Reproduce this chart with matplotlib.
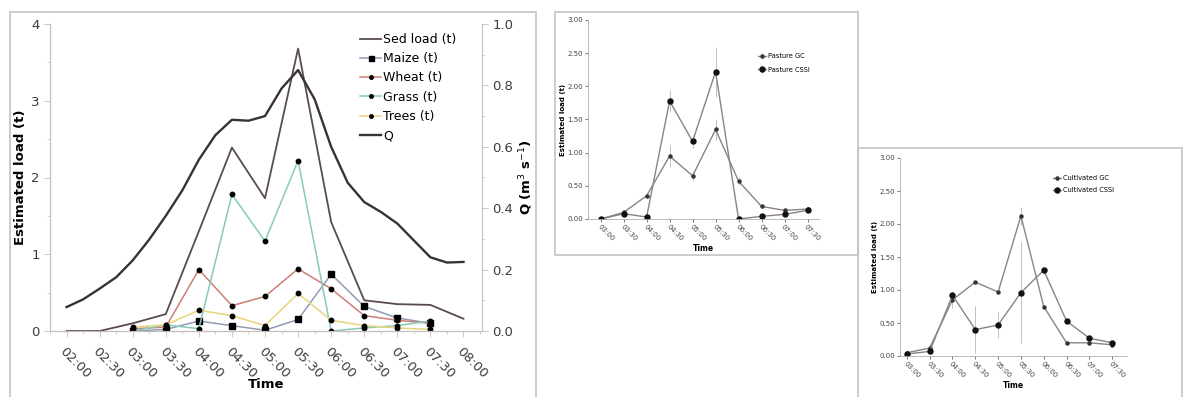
import matplotlib
matplotlib.use("Agg")
import matplotlib.pyplot as plt
from matplotlib.patches import Rectangle
from matplotlib.ticker import MultipleLocator, FixedLocator

W, H = 1185, 397

# ---- left panel: estimated loads per land use and discharge ----
load_times = ["02:00", "02:30", "03:00", "03:30", "04:00", "04:30", "05:00",
              "05:30", "06:00", "06:30", "07:00", "07:30", "08:00"]
sed_load = [0.0, 0.0, 0.10, 0.22, 1.30, 2.39, 1.73, 3.68, 1.42, 0.40, 0.35, 0.34, 0.16]

sample_times = ["03:00", "03:30", "04:00", "04:30", "05:00",
                "05:30", "06:00", "06:30", "07:00", "07:30"]
maize = [0.00, 0.02, 0.13, 0.07, 0.01, 0.15, 0.74, 0.32, 0.17, 0.10]
wheat = [0.03, 0.05, 0.80, 0.33, 0.45, 0.81, 0.55, 0.20, 0.14, 0.10]
grass = [0.00, 0.08, 0.03, 1.78, 1.17, 2.22, 0.00, 0.04, 0.07, 0.13]
trees = [0.05, 0.08, 0.27, 0.20, 0.07, 0.49, 0.14, 0.07, 0.04, 0.02]

q_times = ["02:00", "02:15", "02:30", "02:45", "03:00", "03:15", "03:30", "03:45",
           "04:00", "04:15", "04:30", "04:45", "05:00", "05:15", "05:30", "05:45",
           "06:00", "06:15", "06:30", "06:45", "07:00", "07:15", "07:30", "07:45", "08:00"]
q_flow = [0.078, 0.103, 0.138, 0.175, 0.230, 0.298, 0.375, 0.458,
          0.558, 0.638, 0.688, 0.685, 0.700, 0.790, 0.850, 0.755,
          0.600, 0.483, 0.420, 0.388, 0.350, 0.295, 0.240, 0.223, 0.225]

# ---- middle panel: pasture ----
pasture_gc = [0.00, 0.10, 0.35, 0.95, 0.65, 1.35, 0.57, 0.19, 0.13, 0.15]
pasture_gc_err = [0.01, 0.02, 0.04, 0.17, 0.08, 0.16, 0.06, 0.03, 0.02, 0.02]
pasture_cssi = [0.00, 0.08, 0.03, 1.78, 1.17, 2.22, 0.00, 0.04, 0.07, 0.13]
pasture_cssi_err = [0.00, 0.02, 0.01, 0.16, 0.10, 0.38, 0.00, 0.01, 0.02, 0.03]

# ---- right panel: cultivated ----
cult_gc = [0.05, 0.12, 0.85, 1.12, 0.97, 2.12, 0.75, 0.20, 0.20, 0.17]
cult_gc_err = [0.01, 0.02, 0.12, 0.02, 0.02, 0.14, 0.03, 0.02, 0.02, 0.02]
cult_cssi = [0.03, 0.07, 0.92, 0.40, 0.47, 0.96, 1.30, 0.53, 0.27, 0.20]
cult_cssi_err = [0.01, 0.01, 0.05, 0.36, 0.20, 0.76, 0.05, 0.03, 0.02, 0.02]


def hours(labels):
    return [int(t[:2]) + int(t[3:]) / 60 for t in labels]


def px_axes(fig, left, top, right, bottom):
    return fig.add_axes([left / W, 1 - bottom / H, (right - left) / W, (bottom - top) / H])


def frame(fig, left, top, right, bottom):
    fig.patches.append(Rectangle((left / W, 1 - bottom / H), (right - left) / W, (bottom - top) / H,
                                 transform=fig.transFigure, fill=False, edgecolor="#c4c4c4",
                                 linewidth=1.2))


def style_small(ax, x_pos, xlim):
    for side in ("top", "right"):
        ax.spines[side].set_visible(False)
    for side in ("left", "bottom"):
        ax.spines[side].set_color("#b0b0b0")
        ax.spines[side].set_linewidth(0.6)
    ax.set_ylim(0, 3.0)
    ax.set_xlim(*xlim)
    ax.yaxis.set_major_locator(MultipleLocator(0.5))
    ax.yaxis.set_major_formatter(matplotlib.ticker.FormatStrFormatter("%.2f"))
    ax.set_xticks(x_pos)
    ax.set_xticklabels(sample_times, rotation=-45, ha="left", va="top", rotation_mode="anchor")
    ax.tick_params(labelsize=5, colors="#444444", length=2, width=0.5, pad=1.5)
    ax.set_xlabel("Time", fontsize=5.5, fontweight="bold", labelpad=1)
    ax.set_ylabel("Estimated load (t)", fontsize=5, fontweight="bold", labelpad=1)


fig = plt.figure(figsize=(W / 100, H / 100), dpi=100, facecolor="white")

# frames around each sub-figure
frame(fig, 10, 12, 536, 400)
frame(fig, 555, 12, 858, 255)
frame(fig, 858, 148, 1182, 400)

# ================= left panel =================
ax = px_axes(fig, 50, 24, 482, 331)
ax2 = ax.twinx()

sx = hours(sample_times)
h_sed, = ax.plot(hours(load_times), sed_load, color="#5a4c4c", lw=1.3, label="Sed load (t)")
h_maize, = ax.plot(sx, maize, color="#8f9cb4", lw=1.1, marker="s", ms=4.5, mfc="black",
                   mec="black", label="Maize (t)")
h_wheat, = ax.plot(sx, wheat, color="#cc7f74", lw=1.1, marker="o", ms=3.2, mfc="black",
                   mec="black", label="Wheat (t)")
h_grass, = ax.plot(sx, grass, color="#86cabb", lw=1.1, marker="o", ms=3.2, mfc="black",
                   mec="black", label="Grass (t)")
h_trees, = ax.plot(sx, trees, color="#e9d47c", lw=1.1, marker="o", ms=3.2, mfc="black",
                   mec="black", label="Trees (t)")
h_q, = ax2.plot(hours(q_times), q_flow, color="#3a3232", lw=1.7, label="Q",
                solid_joinstyle="round")

ax.set_xlim(1.75, 8.28)
ax.set_ylim(0, 4)
ax2.set_ylim(0, 1)
ax.yaxis.set_major_locator(MultipleLocator(1))
ax.yaxis.set_minor_locator(MultipleLocator(0.5))
ax2.yaxis.set_major_locator(MultipleLocator(0.2))
ax2.yaxis.set_minor_locator(MultipleLocator(0.1))
ax2.yaxis.set_major_formatter(matplotlib.ticker.FormatStrFormatter("%.1f"))
tick_hours = hours(load_times)
ax.xaxis.set_major_locator(FixedLocator(tick_hours))
ax.xaxis.set_minor_locator(MultipleLocator(0.25))
ax.set_xticklabels(load_times, rotation=-45, ha="left", va="top", rotation_mode="anchor")

for a in (ax, ax2):
    a.spines["top"].set_visible(False)
    for side in ("left", "right", "bottom"):
        a.spines[side].set_color("#c8bcbc")
        a.spines[side].set_linewidth(0.8)
    a.tick_params(which="major", labelsize=9.5, colors="#3c3c3c", length=4, width=0.6)
    a.tick_params(which="minor", length=2, width=0.5, colors="#c8bcbc")
ax.tick_params(axis="x", which="major", pad=6, colors="#c8bcbc", labelcolor="#3c3c3c")
ax.tick_params(axis="y", which="major", colors="#c8bcbc", labelcolor="#3c3c3c")
ax2.tick_params(axis="y", which="major", colors="#c8bcbc", labelcolor="#3c3c3c")
ax.spines["right"].set_visible(False)

ax.set_ylabel("Estimated load (t)", fontsize=9.5, fontweight="bold", labelpad=3)
ax2.set_ylabel("Q (m$^3$ s$^{-1}$)", fontsize=9.5, fontweight="bold", labelpad=3)
ax.set_xlabel("Time", fontsize=9.5, fontweight="bold", labelpad=-2)

fig.legend(handles=[h_sed, h_maize, h_wheat, h_grass, h_trees, h_q],
           loc="upper left", bbox_to_anchor=(360 / W, 1 - 33 / H), frameon=False,
           fontsize=9, handlelength=1.7, handletextpad=0.15, labelspacing=0.5,
           borderpad=0, borderaxespad=0, markerscale=0.8)

# ================= middle panel: pasture =================
pos = list(range(len(sample_times)))
axm = px_axes(fig, 588, 20, 819, 219)
axm.errorbar(pos, pasture_gc, yerr=pasture_gc_err, color="#8c8282", lw=1.0, marker="o",
             ms=2.2, mfc="#333333", mec="#333333", ecolor="#c8c0c0", elinewidth=0.7,
             capsize=0, label="Pasture GC")
axm.errorbar(pos, pasture_cssi, yerr=pasture_cssi_err, color="#8c8282", lw=1.0, marker="o",
             ms=3.6, mfc="#111111", mec="#111111", ecolor="#c8c0c0", elinewidth=0.7,
             capsize=0, label="Pasture CSSI")
style_small(axm, pos, (-0.55, 9.5))
axm.legend(loc="upper left", bbox_to_anchor=(0.72, 0.85), frameon=False, fontsize=4.8,
           handlelength=1.2, handletextpad=0.3, labelspacing=1.1, borderpad=0)

# ================= right panel: cultivated =================
axr = px_axes(fig, 900, 158, 1127, 356)
axr.errorbar(pos, cult_gc, yerr=cult_gc_err, color="#8c8282", lw=1.0, marker="o",
             ms=2.2, mfc="#333333", mec="#333333", ecolor="#c8c0c0", elinewidth=0.7,
             capsize=0, label="Cultivated GC")
axr.errorbar(pos, cult_cssi, yerr=cult_cssi_err, color="#8c8282", lw=1.0, marker="o",
             ms=3.6, mfc="#111111", mec="#111111", ecolor="#c8c0c0", elinewidth=0.7,
             capsize=0, label="Cultivated CSSI")
style_small(axr, pos, (-0.3, 9.65))
axr.legend(loc="upper left", bbox_to_anchor=(0.66, 0.93), frameon=False, fontsize=4.8,
           handlelength=1.2, handletextpad=0.3, labelspacing=0.9, borderpad=0)

fig.savefig("out.png", dpi=100, facecolor="white")
